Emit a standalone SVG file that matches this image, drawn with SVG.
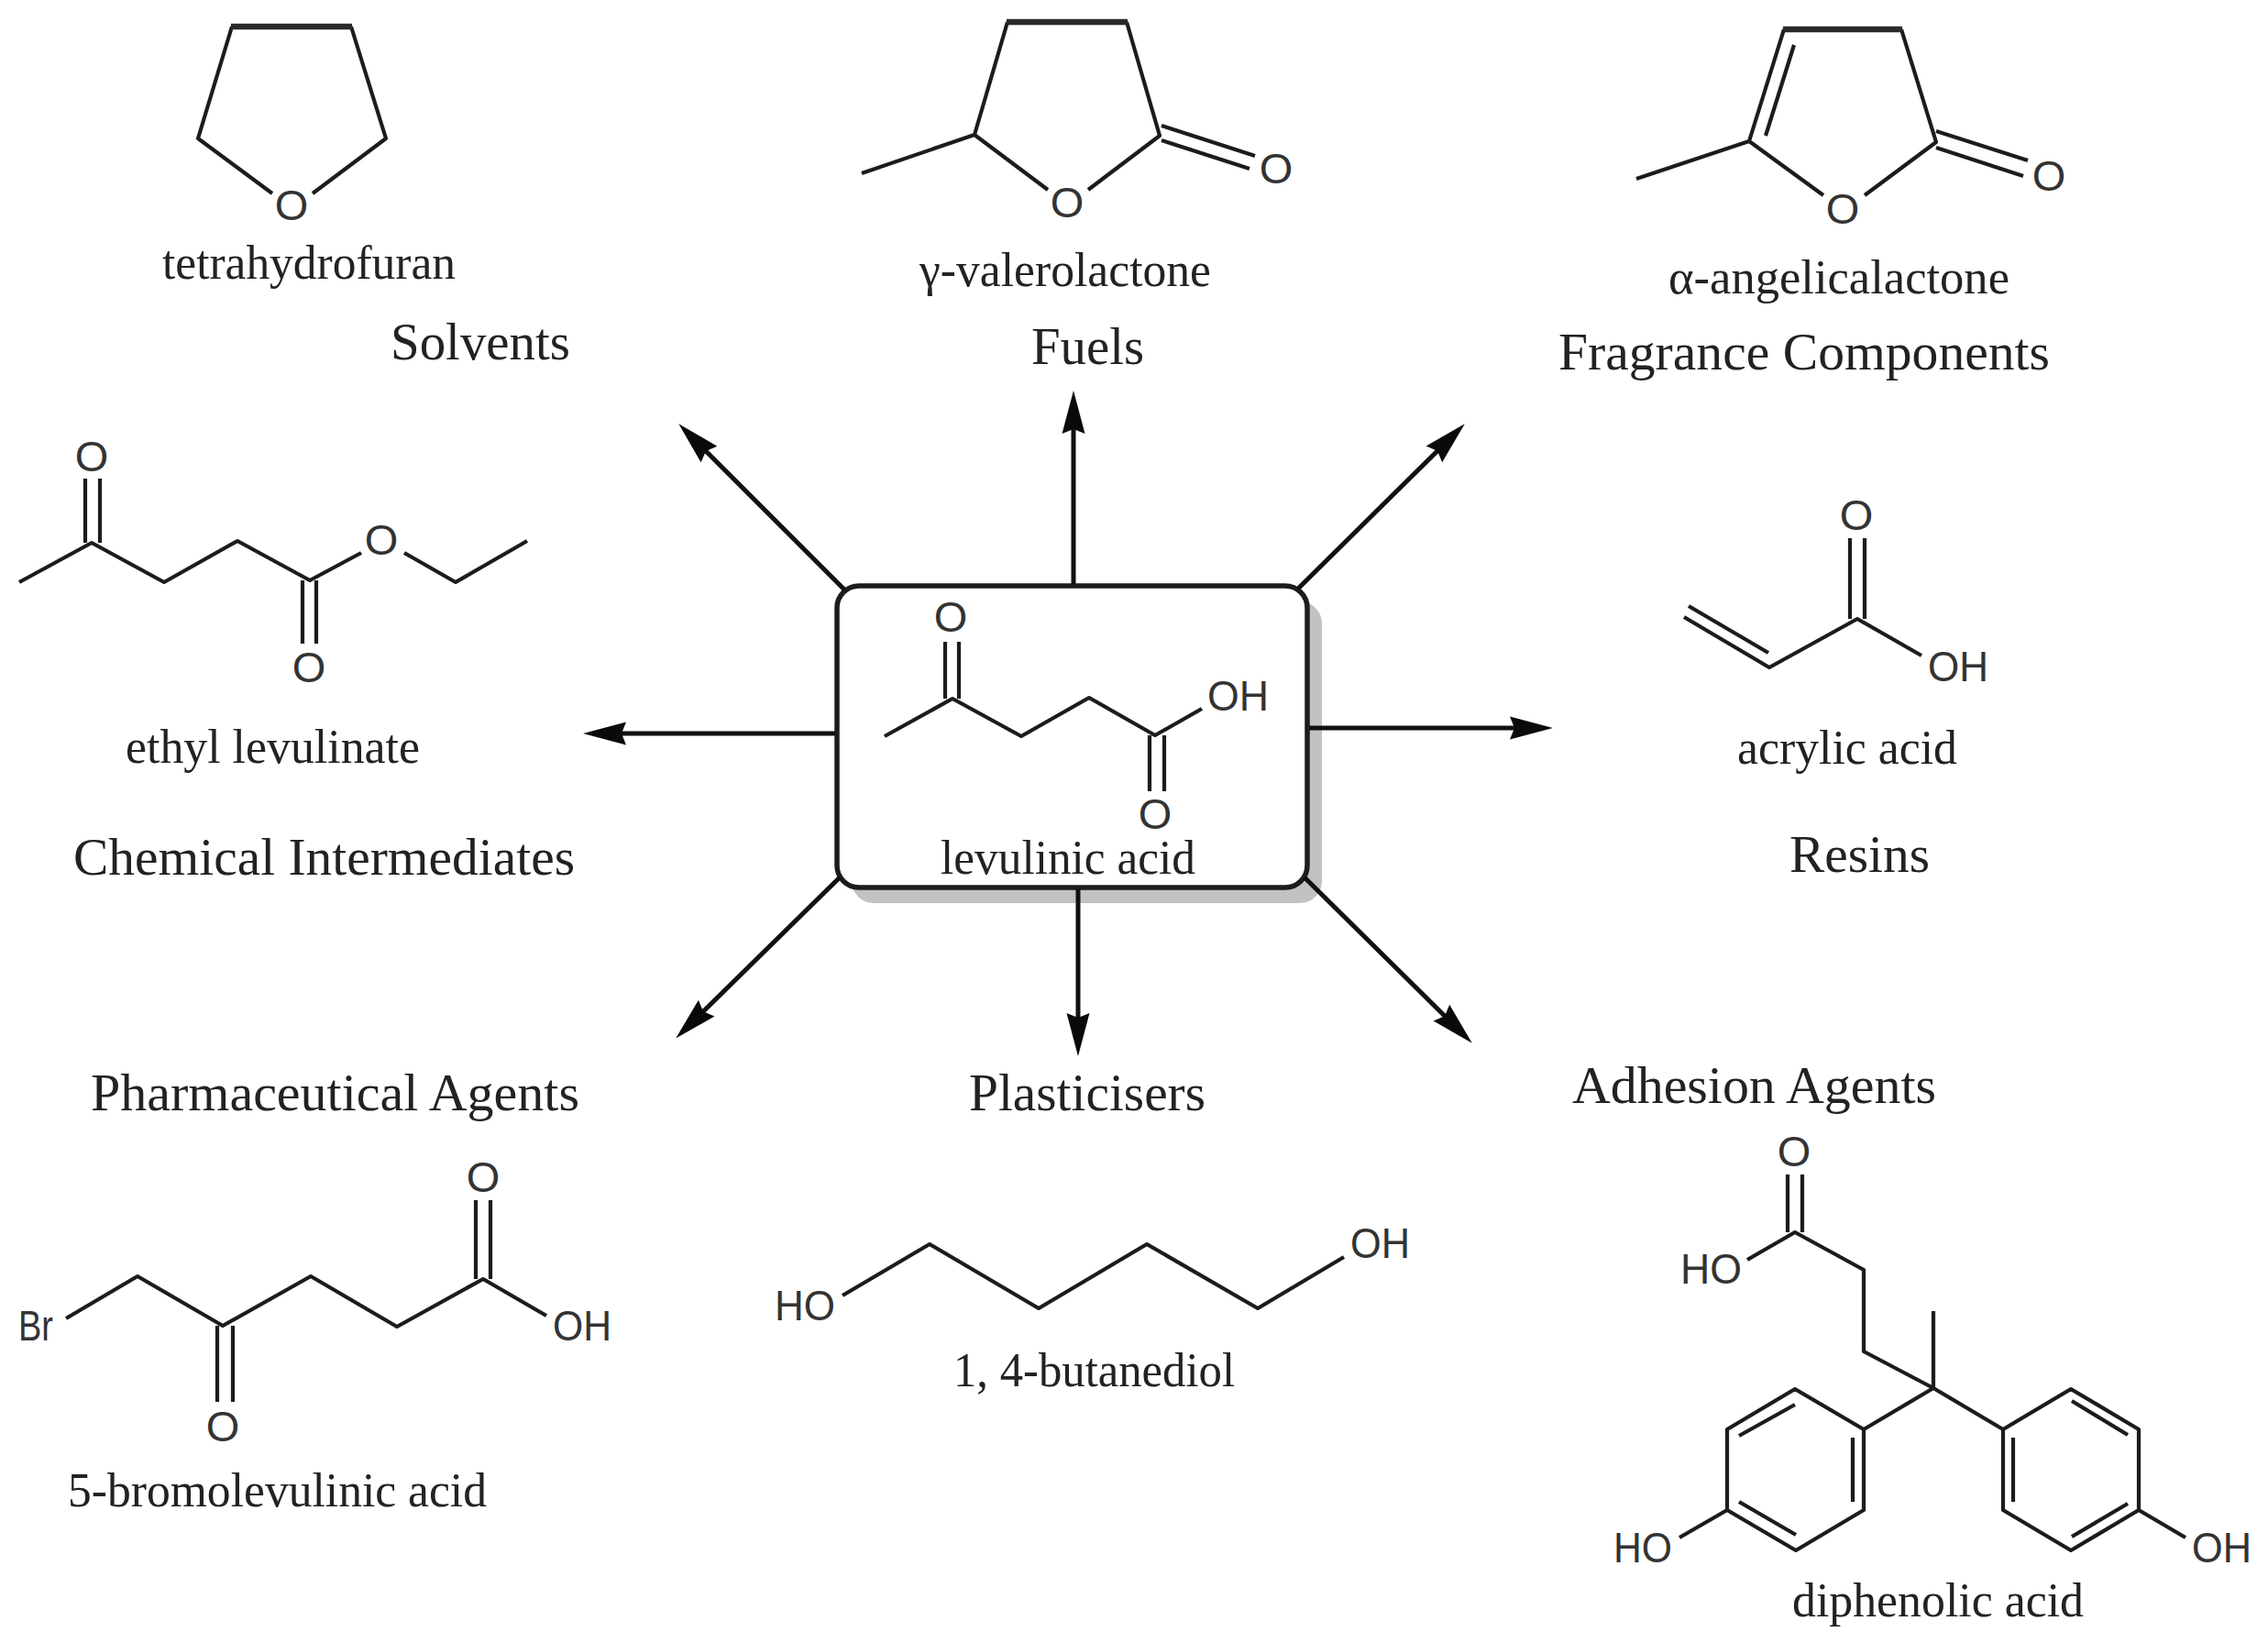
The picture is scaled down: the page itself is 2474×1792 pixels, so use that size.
<svg xmlns="http://www.w3.org/2000/svg" width="2474" height="1792" viewBox="0 0 2474 1792">
<style>
.b{fill:none;stroke:#1c1c1c;stroke-width:4.2;stroke-linejoin:round;stroke-linecap:butt}
.t{fill:none;stroke:#2a2a2a;stroke-width:6.5}
.a{font-family:"Liberation Sans",Arial,sans-serif;font-size:47px;fill:#333}
.m{font-family:"Liberation Serif","Times New Roman",serif;font-size:53px;fill:#222}
.c{font-family:"Liberation Serif","Times New Roman",serif;font-size:58px;fill:#222}
.mid{text-anchor:middle}
.arrow{fill:none;stroke:#111;stroke-width:5}
</style>
<defs>
<marker id="head" markerUnits="userSpaceOnUse" markerWidth="50" markerHeight="28" viewBox="0 0 50 28" refX="30" refY="14" orient="auto">
<path d="M48,14 L1,1.5 L6,14 L1,26.5Z" fill="#0a0a0a"/>
</marker>
</defs>
<rect width="2474" height="1792" fill="#fff"/>

<g id="levulinic-acid">
<rect x="929" y="656" width="513" height="329" rx="24" fill="#c2c2c2"/>
<rect x="913" y="639" width="513" height="329" rx="24" fill="#fff" stroke="#1c1c1c" stroke-width="5.5"/>
<path class="b" d="M965,803 L1039,762 L1114,803 L1188,761 L1260,802 L1311,773 M1031,762 V700 M1046,762 V700 M1254,802 V863 M1270,802 V863"/>
<text class="a mid" x="1037" y="689">O</text>
<text class="a" x="1317" y="775" textLength="67" lengthAdjust="spacingAndGlyphs">OH</text>
<text class="a mid" x="1260" y="904">O</text>
<text class="m" x="1026" y="953" textLength="278" lengthAdjust="spacingAndGlyphs">levulinic acid</text>
</g>

<g id="tetrahydrofuran">
<path class="b" d="M297,211 L216,151 L253,29 M383,29 L421,151 L341,211"/>
<path class="t" d="M252,29 H384"/>
<text class="a mid" x="318" y="240">O</text>
<text class="m" x="177" y="304" textLength="320" lengthAdjust="spacingAndGlyphs">tetrahydrofuran</text>
</g>
<g id="solvents"><text class="c" x="426" y="392" textLength="196" lengthAdjust="spacingAndGlyphs">Solvents</text></g>

<g id="gamma-valerolactone">
<path class="b" d="M940,189 L1063,147 L1099,24 M1229,24 L1265,148 L1187,207 M1063,147 L1143,207 M1267,137 L1369,170 M1267,153 L1363,184"/>
<path class="t" d="M1098,24 H1230"/>
<text class="a mid" x="1164" y="237">O</text>
<text class="a mid" x="1392" y="200">O</text>
<text class="m" x="1003" y="312" textLength="318" lengthAdjust="spacingAndGlyphs">γ-valerolactone</text>
</g>
<g id="fuels"><text class="c" x="1125" y="397" textLength="123" lengthAdjust="spacingAndGlyphs">Fuels</text></g>

<g id="alpha-angelicalactone">
<path class="b" d="M1785,195 L1908,154 L1946,32 M2074,32 L2112,155 L2034,213 M1908,154 L1989,213 M1957,49 L1926,148 M2112,143 L2212,175 M2112,161 L2207,192"/>
<path class="t" d="M1945,32 H2075"/>
<text class="a mid" x="2010" y="244">O</text>
<text class="a mid" x="2235" y="208">O</text>
<text class="m" x="1820" y="320" textLength="372" lengthAdjust="spacingAndGlyphs">α-angelicalactone</text>
</g>
<g id="fragrance-components"><text class="c" x="1700" y="403" textLength="536" lengthAdjust="spacingAndGlyphs">Fragrance Components</text></g>

<g id="ethyl-levulinate">
<path class="b" d="M21,635 L100,592 L179,635 L259,590 L338,633 L394,603 M441,603 L497,635 L575,590 M93,592 V522 M109,592 V522 M330,633 V702 M345,633 V702"/>
<text class="a mid" x="100" y="514">O</text>
<text class="a mid" x="416" y="605">O</text>
<text class="a mid" x="337" y="744">O</text>
<text class="m" x="137" y="832" textLength="321" lengthAdjust="spacingAndGlyphs">ethyl levulinate</text>
</g>
<g id="chemical-intermediates"><text class="c" x="80" y="954" textLength="547" lengthAdjust="spacingAndGlyphs">Chemical Intermediates</text></g>

<g id="acrylic-acid">
<path class="b" d="M1837,673 L1930,728 L2026,675 L2096,715 M1842,661 L1929,712 M2018,675 V587 M2034,675 V587"/>
<text class="a mid" x="2025" y="578">O</text>
<text class="a" x="2103" y="743" textLength="66" lengthAdjust="spacingAndGlyphs">OH</text>
<text class="m" x="1895" y="833" textLength="240" lengthAdjust="spacingAndGlyphs">acrylic acid</text>
</g>
<g id="resins"><text class="c" x="1952" y="951" textLength="153" lengthAdjust="spacingAndGlyphs">Resins</text></g>

<g id="pharmaceutical-agents"><text class="c" x="99" y="1211" textLength="533" lengthAdjust="spacingAndGlyphs">Pharmaceutical Agents</text></g>
<g id="bromolevulinic-acid">
<path class="b" d="M72,1438 L150,1392 L243,1446 L339,1392 L433,1447 L527,1395 L596,1435 M519,1395 V1309 M535,1395 V1309 M237,1446 V1529 M254,1446 V1529"/>
<text class="a" x="20" y="1462" textLength="38" lengthAdjust="spacingAndGlyphs">Br</text>
<text class="a" x="603" y="1462" textLength="64" lengthAdjust="spacingAndGlyphs">OH</text>
<text class="a mid" x="527" y="1300">O</text>
<text class="a mid" x="243" y="1572">O</text>
<text class="m" x="74" y="1643" textLength="457" lengthAdjust="spacingAndGlyphs">5-bromolevulinic acid</text>
</g>

<g id="plasticisers"><text class="c" x="1057" y="1211" textLength="258" lengthAdjust="spacingAndGlyphs">Plasticisers</text></g>
<g id="butanediol">
<path class="b" d="M919,1413 L1014,1357 L1133,1427 L1251,1357 L1372,1427 L1466,1371"/>
<text class="a" x="845" y="1440" textLength="66" lengthAdjust="spacingAndGlyphs">HO</text>
<text class="a" x="1473" y="1372" textLength="65" lengthAdjust="spacingAndGlyphs">OH</text>
<text class="m" x="1040" y="1512" textLength="307" lengthAdjust="spacingAndGlyphs">1, 4-butanediol</text>
</g>

<g id="adhesion-agents"><text class="c" x="1715" y="1203" textLength="397" lengthAdjust="spacingAndGlyphs">Adhesion Agents</text></g>
<g id="diphenolic-acid">
<path class="b" d="M1906,1374 L1958,1344 L2033,1385 V1474 L2109,1514 V1430 M1950,1344 V1281 M1966,1344 V1281 M2109,1514 L2033,1559 M2109,1514 L2185,1559"/>
<path class="b" d="M2033,1559 L1958,1515 L1884,1559 V1647 L1959,1691 L2033,1647 Z M1897,1566 L1958,1532 M2021,1568 V1638 M1897,1638 L1959,1674 M1884,1647 L1832,1677"/>
<path class="b" d="M2185,1559 L2259,1515 L2333,1559 V1647 L2259,1691 L2185,1647 Z M2260,1528 L2321,1565 M2196,1568 V1638 M2260,1676 L2321,1640 M2333,1647 L2384,1677"/>
<text class="a mid" x="1957" y="1272">O</text>
<text class="a" x="1833" y="1400" textLength="67" lengthAdjust="spacingAndGlyphs">HO</text>
<text class="a" x="1760" y="1704" textLength="64" lengthAdjust="spacingAndGlyphs">HO</text>
<text class="a" x="2391" y="1704" textLength="65" lengthAdjust="spacingAndGlyphs">OH</text>
<text class="m" x="1955" y="1763" textLength="318" lengthAdjust="spacingAndGlyphs">diphenolic acid</text>
</g>

<g id="connectors">
<path class="arrow" marker-end="url(#head)" d="M921,643 L753,475"/>
<path class="arrow" marker-end="url(#head)" d="M1171,637 V444"/>
<path class="arrow" marker-end="url(#head)" d="M1416,642 L1585,475"/>
<path class="arrow" marker-end="url(#head)" d="M1428,794 H1676"/>
<path class="arrow" marker-end="url(#head)" d="M911,800 H654"/>
<path class="arrow" marker-end="url(#head)" d="M1176,970 V1134"/>
<path class="arrow" marker-end="url(#head)" d="M916,957 L750,1120"/>
<path class="arrow" marker-end="url(#head)" d="M1423,957 L1593,1125"/>
</g>
</svg>
